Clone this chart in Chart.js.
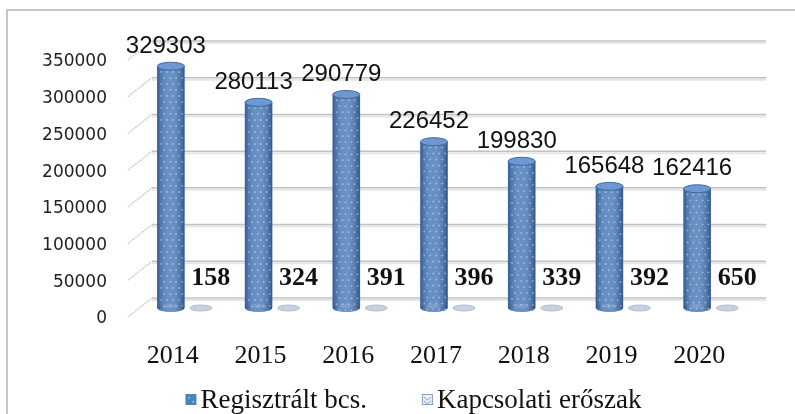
<!DOCTYPE html>
<html>
<head>
<meta charset="utf-8">
<script src="https://cdn.jsdelivr.net/npm/chart.js@4.4.0/dist/chart.umd.min.js"></script>
<style>
  html, body { margin: 0; padding: 0; background: #fff; overflow: hidden; }
  #frame { position: absolute; left: 6px; top: 9px; width: 900px; height: 600px; border: 2px solid #c6c6c6; }
  #wrap { position: absolute; left: 0; top: 0; width: 795px; height: 414px; }
</style>
</head>
<body>
<div id="frame"></div>
<div id="wrap"><canvas id="chart"></canvas></div>
<script>
/* adatok */
const years = ['2014', '2015', '2016', '2017', '2018', '2019', '2020'];
const registeredValues = [329303, 280113, 290779, 226452, 199830, 165648, 162416];
const relationValues = [158, 324, 391, 396, 339, 392, 650];
const seriesNames = ['Regisztrált bcs.', 'Kapcsolati erőszak'];
const yMax = 350000;
const yStep = 50000;

const BLUE = '#4f81bd';
const PALE = '#c9d1e0';

function ellipse(ctx, x, y, rx, ry) {
    ctx.beginPath();
    ctx.ellipse(x, y, rx, ry, 0, 0, Math.PI * 2);
}

/* 3D hatás: hátfal rácsvonalai, hengerek, feliratok */
const cylinderPlugin = {
    id: 'cylinders',
    beforeDatasetsDraw(chart) {
        const { ctx, chartArea: a, scales: { y } } = chart;
        ctx.save();
        y.ticks.forEach(t => {
            const py = y.getPixelForValue(t.value);
            ctx.lineWidth = 2;
            ctx.strokeStyle = '#e6e6e6';
            ctx.beginPath(); ctx.moveTo(a.left + 10, py - 8); ctx.lineTo(a.right + 10, py - 8); ctx.stroke();
            ctx.strokeStyle = '#c2c2c2';
            ctx.lineWidth = 1.5;
            ctx.beginPath(); ctx.moveTo(a.left + 10, py - 10); ctx.lineTo(a.right + 10, py - 10); ctx.stroke();
            ctx.strokeStyle = '#cfcfcf';
            ctx.setLineDash([2, 1]);
            ctx.beginPath(); ctx.moveTo(a.left - 14, py + 9); ctx.lineTo(a.left + 10, py - 10); ctx.stroke();
            ctx.setLineDash([]);
        });
        ctx.restore();
    },
    afterDatasetsDraw(chart) {
        const ctx = chart.ctx;
        ctx.save();
        // hátsó sor: apró korongok
        chart.getDatasetMeta(1).data.forEach(bar => {
            const { x, base, width } = bar.getProps(['x', 'base', 'width'], true);
            ellipse(ctx, x, base, width / 2, 3);
            ctx.fillStyle = PALE;
            ctx.fill();
            ctx.strokeStyle = '#b3bdd0';
            ctx.lineWidth = 1;
            ctx.stroke();
        });
        // első sor: hengerek
        chart.getDatasetMeta(0).data.forEach(bar => {
            const { x, y, base, width } = bar.getProps(['x', 'y', 'base', 'width'], true);
            const l = x - width / 2, r = x + width / 2, ry = 4;
            ellipse(ctx, x, base, width / 2, ry);
            ctx.fillStyle = BLUE;
            ctx.fill();
            const g = ctx.createLinearGradient(l, 0, r, 0);
            g.addColorStop(0, 'rgba(20,45,95,0.45)');
            g.addColorStop(0.45, 'rgba(255,255,255,0.12)');
            g.addColorStop(1, 'rgba(20,45,95,0.5)');
            ctx.fillStyle = g;
            ctx.beginPath();
            ctx.rect(l, y, width, base - y);
            ctx.fill();
            ellipse(ctx, x, base, width / 2, ry);
            ctx.fill();
            // pöttyös minta
            ctx.fillStyle = 'rgba(255,255,255,0.45)';
            let row = 0;
            for (let yy = y + 5; yy < base + 2; yy += 6, row++) {
                for (let xx = l + 3 + (row % 2) * 3; xx < r - 2; xx += 6) {
                    ctx.fillRect(xx, yy, 1.5, 1.5);
                }
            }
            // tető
            ellipse(ctx, x, y, width / 2, ry);
            ctx.fillStyle = '#6d98d2';
            ctx.fill();
            ctx.strokeStyle = '#3f6aa3';
            ctx.lineWidth = 1;
            ctx.stroke();
        });
        // értékfeliratok
        ctx.textAlign = 'center';
        ctx.textBaseline = 'middle';
        ctx.fillStyle = '#111';
        ctx.font = '24px "Liberation Sans", sans-serif';
        chart.getDatasetMeta(0).data.forEach((bar, i) => {
            ctx.fillText(String(registeredValues[i]), bar.x - 5, bar.y - 20);
        });
        ctx.font = 'bold 26px "Liberation Serif", serif';
        chart.getDatasetMeta(1).data.forEach((bar, i) => {
            ctx.fillText(String(relationValues[i]), bar.x + 10, bar.base - 30);
        });
        ctx.restore();
    },
    afterDraw(chart) {
        // jelmagyarázat
        const ctx = chart.ctx;
        ctx.save();
        ctx.font = '27px "Liberation Serif", serif';
        ctx.textBaseline = 'middle';
        ctx.textAlign = 'left';
        const box = 11, gapBox = 4, gapItem = 55;
        const widths = seriesNames.map(n => ctx.measureText(n).width);
        const total = widths.reduce((s, w) => s + w + box + gapBox, 0) + gapItem;
        let cx = chart.width / 2 + 16 - total / 2;
        const cy = 400;
        seriesNames.forEach((n, i) => {
            if (i === 0) {
                ctx.fillStyle = BLUE;
                ctx.fillRect(cx, cy - 6, box, box);
                ctx.fillStyle = 'rgba(255,255,255,0.6)';
                ctx.fillRect(cx + 3, cy - 3, 1.5, 1.5);
                ctx.fillRect(cx + 7, cy + 1, 1.5, 1.5);
            } else {
                ctx.fillStyle = '#eef1f7';
                ctx.fillRect(cx, cy - 6, box, box);
                ctx.strokeStyle = '#7f9fd0';
                ctx.lineWidth = 1;
                ctx.strokeRect(cx + 0.5, cy - 5.5, box - 1, box - 1);
                ctx.beginPath();
                ctx.moveTo(cx + 2, cy - 3); ctx.lineTo(cx + 5.5, cy); ctx.lineTo(cx + 9, cy - 3);
                ctx.moveTo(cx + 2, cy + 1); ctx.lineTo(cx + 5.5, cy + 4); ctx.lineTo(cx + 9, cy + 1);
                ctx.stroke();
            }
            cx += box + gapBox;
            ctx.fillStyle = '#111';
            ctx.fillText(n, cx, cy + 1);
            cx += widths[i] + gapItem;
        });
        ctx.restore();
    }
};

new Chart(document.getElementById('chart'), {
    type: 'bar',
    data: {
        labels: years,
        datasets: [{
            label: seriesNames[0],
            data: registeredValues,
            backgroundColor: BLUE,
            barThickness: 30,
            maxBarThickness: 27
        }, {
            label: seriesNames[1],
            data: relationValues,
            backgroundColor: 'rgba(0,0,0,0)',
            barThickness: 30,
            maxBarThickness: 22
        }]
    },
    options: {
        responsive: true,
        maintainAspectRatio: false,
        animation: false,
        layout: { padding: { top: 51, right: 39, bottom: 0, left: 0 } },
        scales: {
            x: {
                grid: { display: false, drawTicks: false },
                border: { display: false },
                ticks: {
                    font: { family: 'Liberation Serif', size: 26 },
                    color: '#111',
                    labelOffset: -13,
                    padding: 33
                },
                afterFit: s => { s.height = 106; }
            },
            y: {
                min: 0,
                max: yMax,
                grid: { display: false, drawTicks: false },
                border: { display: false },
                ticks: {
                    stepSize: yStep,
                    font: { family: 'DejaVu Sans', size: 17 },
                    color: '#222',
                    padding: 35,
                    labelOffset: 11,
                    callback: v => String(v)
                },
                afterFit: s => { s.width = 142; }
            }
        },
        plugins: {
            legend: { display: false },
            tooltip: { enabled: false }
        }
    },
    plugins: [cylinderPlugin]
});
</script>
</body>
</html>
